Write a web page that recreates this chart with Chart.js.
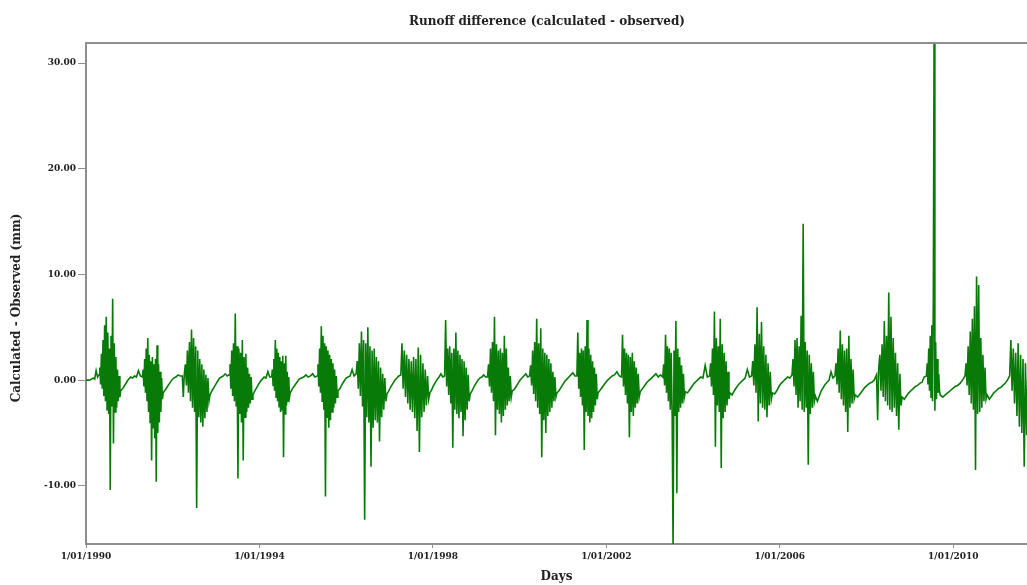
<!DOCTYPE html>
<html><head><meta charset="utf-8">
<script src="https://cdn.jsdelivr.net/npm/chart.js@4.4.1/dist/chart.umd.min.js"></script>
<style>html,body{margin:0;padding:0;background:#fff;overflow:hidden}</style>
</head><body>
<canvas id="c" width="1027" height="585"></canvas>
<script>
// ---- data ----
const chartTitle = 'Runoff difference (calculated - observed)';
const xAxisTitle = 'Days';
const yAxisTitle = 'Calculated - Observed (mm)';
const xTickYears = [1990, 1994, 1998, 2002, 2006, 2010];
const yTickValues = [-10, 0, 10, 20, 30];
const xMin = 1990, xMax = 2011.7;
const yMin = -15.5, yMax = 31.9;

// wet-season bursts: start / end (decimal year) and daily-like values inside
const seasonStart = [1990.30, 1991.30, 1992.22, 1993.30, 1994.28, 1995.33, 1996.23, 1997.26, 1998.27, 1999.26, 2000.23, 2001.32, 2002.35, 2003.30, 2004.38, 2005.35, 2006.28, 2007.27, 2008.23, 2009.38, 2010.27, 2011.30];
const seasonEnd   = [1990.80, 1991.78, 1992.86, 1993.85, 1994.71, 1995.81, 1996.94, 1997.93, 1998.86, 1999.83, 2000.86, 2001.81, 2002.78, 2003.82, 2004.85, 2005.83, 2006.82, 2007.74, 2008.82, 2009.70, 2010.78, 2011.72];
const wetSeasonValues = [
  [0.5, 1.2, -0.4, 2.5, -0.8, 3.8, -1.5, 5.2, -2.0, 6.0, -2.8, 4.5, -3.2, 3.0, -10.4, 4.2, -2.5, 7.7, -6.0, 3.5, -3.0, 2.2, -2.6, 1.0, -2.0, 0.4, -1.6, -1.0],
  [0.3, 1.0, -0.6, 2.0, -1.2, 3.0, -2.0, 4.0, -3.0, 2.4, -4.0, 1.8, -7.6, 2.2, -4.5, 1.5, -5.5, 2.0, -9.6, 3.3, -5.0, 1.5, -4.0, 0.8, -3.0, 0.2, -1.8, -1.2],
  [0.4, -1.6, 0.6, 1.5, -0.5, 2.8, -1.2, 3.6, -2.0, 4.8, -2.6, 4.0, -3.0, 3.2, -12.1, 2.8, -3.5, 2.0, -4.0, 1.5, -4.4, 1.0, -3.6, 0.5, -3.0, 0.2, -2.0, -1.4],
  [0.5, 1.5, -0.8, 2.8, -1.5, 3.5, -2.0, 6.3, -2.5, 3.2, -9.3, 3.0, -3.2, 2.6, -4.0, 3.8, -7.6, 2.2, -3.5, 2.5, -3.0, 1.2, -2.6, 0.6, -2.2, 0.3, -1.8, -1.4],
  [0.3, 1.0, -0.5, 2.0, -1.0, 3.8, -1.6, 3.0, -2.0, 2.6, -2.5, 2.2, -3.0, 1.8, -2.8, 2.3, -7.3, 1.6, -3.2, 2.3, -2.4, 0.8, -2.0, 0.3, -1.6, -1.2],
  [0.4, 1.5, -0.6, 3.0, -1.2, 5.1, -2.0, 4.2, -2.8, 3.5, -11.0, 3.2, -3.5, 2.8, -4.5, 2.4, -3.8, 2.0, -3.0, 1.6, -2.6, 1.0, -2.2, 0.4, -1.6, -1.0],
  [0.6, 1.8, -0.8, 3.5, -1.5, 4.6, -2.5, 3.8, -13.2, 3.5, -3.5, 5.0, -4.0, 3.2, -8.2, 2.8, -4.5, 3.0, -3.8, 2.2, -4.0, 1.8, -5.8, 1.2, -3.5, 0.6, -2.8, 0.2, -2.0, -1.3],
  [0.5, 3.5, -0.8, 2.8, -1.6, 2.4, -2.2, 2.0, -2.8, 1.8, -3.0, 2.2, -3.6, 2.0, -4.8, 3.1, -6.8, 2.4, -3.5, 1.6, -3.0, 1.0, -2.4, 0.4, -1.8, -1.2],
  [0.4, 5.7, -0.6, 3.0, -1.4, 3.2, -2.2, 2.6, -6.4, 3.0, -2.8, 4.5, -3.2, 2.8, -3.6, 2.4, -3.0, 2.0, -5.3, 1.8, -3.8, 1.2, -2.8, 0.5, -2.0, -1.3],
  [0.3, 1.5, -0.6, 3.0, -1.2, 3.6, -2.0, 6.0, -5.2, 3.4, -2.8, 2.8, -3.2, 3.0, -4.0, 2.6, -3.4, 4.2, -2.8, 3.0, -2.4, 1.2, -2.0, 0.4, -1.6, -1.0],
  [0.4, 1.4, -0.5, 2.8, -1.3, 3.6, -2.0, 5.8, -2.6, 3.5, -3.2, 4.9, -7.3, 3.0, -3.8, 2.6, -5.0, 2.4, -3.4, 2.0, -3.0, 1.6, -2.6, 0.8, -2.0, 0.3, -1.6, -1.2],
  [0.4, 4.5, -0.8, 2.6, -1.6, 3.0, -2.4, 2.8, -6.6, 3.2, -3.0, 5.7, -3.4, 3.0, -4.0, 2.4, -3.6, 1.8, -3.0, 1.2, -2.4, 0.6, -1.8, -1.2],
  [0.3, 4.3, -0.6, 3.0, -1.4, 2.6, -2.2, 2.4, -5.4, 2.2, -3.0, 2.6, -3.4, 1.8, -2.6, 1.2, -2.2, 0.6, -1.6, -1.1],
  [0.3, 1.5, -0.5, 4.3, -1.2, 3.2, -2.0, 3.0, -2.8, 2.6, -3.2, -16.0, 2.8, -3.4, 5.6, -10.7, 3.0, -3.0, 2.2, -2.6, 1.4, -2.2, 0.6, -1.6, -1.1],
  [0.4, 1.6, -0.6, 3.0, -1.4, 6.5, -6.3, 4.0, -2.4, 3.2, -3.0, 5.8, -8.3, 3.4, -3.6, 2.6, -3.0, 1.8, -2.4, 0.8, -1.8, -1.2],
  [0.4, 1.8, -0.5, 3.4, -1.2, 6.9, -3.9, 4.4, -2.2, 5.5, -2.6, 3.2, -2.8, 2.4, -3.5, 1.6, -2.4, 0.8, -1.8, -1.2],
  [0.5, 2.0, -0.6, 3.8, -1.4, 4.0, -2.6, 3.2, -2.0, 6.1, -2.8, 14.8, -3.0, 3.6, -2.6, 2.8, -8.0, 2.4, -3.2, 1.6, -2.6, 0.8, -2.0, -1.5],
  [0.4, 1.6, -0.4, 3.0, -1.2, 4.7, -1.8, 3.4, -2.4, 2.8, -3.0, 3.0, -4.9, 4.2, -2.6, 2.0, -2.2, 1.0, -1.8, -1.4],
  [0.5, -3.8, 1.2, 2.4, -1.0, 3.4, -1.6, 5.6, -2.0, 4.2, -2.4, 8.3, -2.8, 6.0, -3.0, 4.0, -2.6, 2.6, -3.4, 1.6, -4.7, 0.6, -2.4, -1.6],
  [0.4, 1.6, -0.4, 3.0, -1.0, 4.2, -1.6, 5.2, -2.0, 7.9, 34.0, -2.9, 3.6, -1.8, 2.0, -1.2, 0.6, -1.0, -1.4],
  [0.4, 1.6, -0.5, 3.2, -1.4, 4.6, -2.2, 5.8, -2.8, 7.0, -8.5, 9.8, -3.2, 9.0, -3.0, 4.0, -2.6, 2.4, -2.0, 1.2, -1.8, -1.4],
  [0.4, 3.8, -1.0, 3.0, -2.2, 2.6, -3.4, 3.5, -4.4, 2.4, -5.0, 2.0, -8.2, 1.6, -5.2, 1.0]
];
// dry spells: values between one burst and the next (first one starts 1/01/1990)
const drySpellValues = [
  [0, 0, 0, 0.05, 0.1, 0.2, 0.1, 0.9, 0.3],
  [-0.8, -0.5, -0.2, 0.1, 0.3, 0.2, 0.4, 0.3, 0.9, 0.4],
  [-0.9, -0.6, -0.3, 0.0, 0.2, 0.3, 0.5, 0.4],
  [-1.0, -0.7, -0.4, -0.1, 0.2, 0.3, 0.4, 0.6, 0.4],
  [-1.0, -0.7, -0.4, -0.1, 0.1, 0.3, 0.2, 0.8, 0.3],
  [-0.8, -0.5, -0.2, 0.1, 0.2, 0.3, 0.5, 0.3, 0.4, 0.6, 0.3],
  [-0.8, -0.4, -0.1, 0.2, 0.3, 0.4, 1.0, 0.4],
  [-1.0, -0.6, -0.3, 0.0, 0.2, 0.4],
  [-0.9, -0.5, -0.2, 0.1, 0.3, 0.6, 0.3],
  [-1.0, -0.6, -0.3, 0.0, 0.2, 0.3, 0.5, 0.3],
  [-0.9, -0.6, -0.3, 0.0, 0.2, 0.4, 0.6, 0.3],
  [-1.0, -0.7, -0.4, -0.1, 0.1, 0.3, 0.5, 0.7, 0.4],
  [-0.9, -0.6, -0.3, 0.0, 0.2, 0.4, 0.5, 0.8, 0.4],
  [-0.8, -0.5, -0.2, 0.0, 0.2, 0.4, 0.6, 0.3, 0.5],
  [-1.2, -0.9, -0.6, -0.3, -0.1, 0.1, 0.3, 0.2, 1.4, 0.3],
  [-1.4, -1.0, -0.7, -0.4, -0.2, 0.0, 0.2, 1.0, 0.3],
  [-1.3, -1.0, -0.6, -0.3, -0.1, 0.1, 0.3, 0.2],
  [-2.0, -1.5, -1.0, -0.7, -0.4, -0.2, 0.0, 0.8, 0.2],
  [-1.6, -1.3, -1.0, -0.7, -0.5, -0.3, -0.2, 0.0],
  [-1.8, -1.5, -1.2, -1.0, -0.8, -0.6, -0.5, -0.3, -0.2, 0.3],
  [-1.6, -1.4, -1.2, -1.0, -0.8, -0.6, -0.5, -0.3, 0.0],
  [-1.8, -1.5, -1.2, -1.0, -0.8, -0.7, -0.5, -0.3, 0.0]
];

// ---- assemble the time series (sample dates spread evenly inside each span) ----
const points = [];
seasonStart.forEach((s, i) => {
  const dryFrom = i === 0 ? xMin : seasonEnd[i - 1];
  const dry = drySpellValues[i];
  dry.forEach((v, k) => {
    const t = i === 0 ? k / dry.length : (k + 1) / (dry.length + 1);
    points.push({x: dryFrom + (s - dryFrom) * t, y: v});
  });
  const wet = wetSeasonValues[i];
  wet.forEach((v, k) => {
    points.push({x: s + (seasonEnd[i] - s) * k / (wet.length - 1), y: v});
  });
});

const axisGray = '#8e8e8e';
const labelFont = {family: 'DejaVu Serif', weight: 'bold', size: 9};
const titleFont = {family: 'DejaVu Serif', weight: 'bold', size: 12};

const frameAndTitles = {
  id: 'frameAndTitles',
  afterDraw(chart) {
    const {ctx, chartArea} = chart;
    ctx.save();
    ctx.strokeStyle = axisGray;
    ctx.lineWidth = 2;
    ctx.beginPath();
    ctx.moveTo(chartArea.left, chartArea.top);
    ctx.lineTo(chart.width, chartArea.top);
    ctx.stroke();
    ctx.fillStyle = '#222';
    ctx.font = 'bold 12px "DejaVu Serif"';
    ctx.textAlign = 'center';
    ctx.textBaseline = 'middle';
    ctx.fillText(chartTitle, 547, 22);
    ctx.translate(17, 308);
    ctx.rotate(-Math.PI / 2);
    ctx.fillText(yAxisTitle, 0, 0);
    ctx.restore();
  }
};

new Chart(document.getElementById('c'), {
  type: 'line',
  data: {
    datasets: [{
      data: points,
      borderColor: 'rgb(8,122,8)',
      borderWidth: 1.6,
      pointRadius: 0,
      tension: 0,
      fill: false
    }]
  },
  options: {
    responsive: false,
    animation: false,
    devicePixelRatio: 1,
    layout: {padding: {top: 43, left: 0, right: 0, bottom: 0}},
    plugins: {legend: {display: false}, tooltip: {enabled: false}, title: {display: false}},
    scales: {
      x: {
        type: 'linear', min: xMin, max: xMax,
        afterBuildTicks: s => { s.ticks = xTickYears.map(v => ({value: v})); },
        afterFit: s => { s.height = 41; },
        ticks: {callback: v => '1/01/' + v, font: labelFont, color: '#222', padding: 3, maxRotation: 0, autoSkip: false},
        grid: {drawOnChartArea: false, drawTicks: true, tickLength: 4, color: axisGray},
        border: {color: axisGray, width: 2},
        title: {display: true, text: xAxisTitle, font: titleFont, color: '#222', padding: {top: 0, bottom: 1}}
      },
      y: {
        min: yMin, max: yMax,
        afterBuildTicks: s => { s.ticks = yTickValues.map(v => ({value: v})); },
        afterFit: s => { s.width = 86; },
        ticks: {callback: v => Number(v).toFixed(2), font: labelFont, color: '#222', padding: 2},
        grid: {drawOnChartArea: false, drawTicks: true, tickLength: 8, color: axisGray},
        border: {color: axisGray, width: 2},
        title: {display: false}
      }
    }
  },
  plugins: [frameAndTitles]
});
</script>
</body></html>
